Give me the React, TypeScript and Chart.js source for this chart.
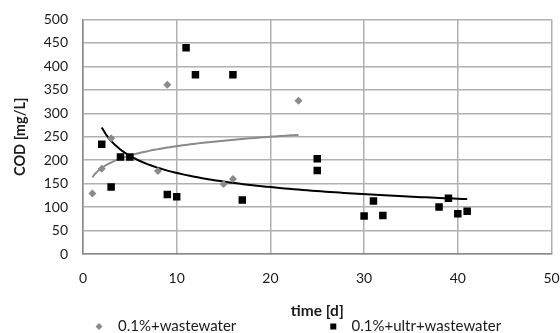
import React, { useEffect, useRef } from 'react';
import { Chart, registerables } from 'chart.js';

Chart.register(...registerables);

// ---- data ----
const seriesNames = ['0.1%+wastewater', '0.1%+ultr+wastewater'];
const daysWastewater = [1, 2, 3, 8, 9, 15, 16, 23];
const codWastewater = [129, 182, 247, 177, 361, 149, 160, 327];
const daysUltr = [2, 3, 4, 5, 9, 10, 11, 12, 16, 17, 25, 25, 30, 31, 32, 38, 39, 40, 41];
const codUltr = [234, 143, 207, 207, 127, 122, 440, 382, 382, 115, 203, 178, 81, 113, 82, 100, 119, 86, 91];
const xAxisTitle = 'time [d]';
const yAxisTitle = 'COD [mg/L]';
const xMin = 0, xMax = 50, xStep = 10;
const yMin = 0, yMax = 500, yStep = 50;

const FONT = 'Lato, "Open Sans", sans-serif';
const GRAY = '#8a8a8a';
const BLACK = '#000000';
const TEXT = '#1a1a1a';

// least-squares logarithmic trend: y = a + b ln x
function logFit(xs: number[], ys: number[]) {
  const n = xs.length;
  const lx = xs.map((x) => Math.log(x));
  const mx = lx.reduce((s, v) => s + v, 0) / n;
  const my = ys.reduce((s, v) => s + v, 0) / n;
  let sxy = 0, sxx = 0;
  for (let i = 0; i < n; i++) { sxy += (lx[i] - mx) * (ys[i] - my); sxx += (lx[i] - mx) ** 2; }
  const b = sxy / sxx;
  const a = my - b * mx;
  return (x: number) => a + b * Math.log(x);
}
// least-squares power trend: y = a x^b
function powerFit(xs: number[], ys: number[]) {
  const n = xs.length;
  const lx = xs.map((x) => Math.log(x));
  const ly = ys.map((y) => Math.log(y));
  const mx = lx.reduce((s, v) => s + v, 0) / n;
  const my = ly.reduce((s, v) => s + v, 0) / n;
  let sxy = 0, sxx = 0;
  for (let i = 0; i < n; i++) { sxy += (lx[i] - mx) * (ly[i] - my); sxx += (lx[i] - mx) ** 2; }
  const b = sxy / sxx;
  const a = Math.exp(my - b * mx);
  return (x: number) => a * Math.pow(x, b);
}
function sampleTrend(f: (x: number) => number, xs: number[]) {
  const lo = Math.min(...xs), hi = Math.max(...xs);
  const steps = 80;
  const pts: { x: number; y: number }[] = [];
  for (let i = 0; i <= steps; i++) {
    const x = lo + ((hi - lo) * i) / steps;
    pts.push({ x, y: f(x) });
  }
  return pts;
}

const overlayPlugin = {
  id: 'overlay',
  afterDraw(chart: any) {
    const ctx = chart.ctx as CanvasRenderingContext2D;
    const area = chart.chartArea;
    ctx.save();
    // x axis title
    ctx.fillStyle = TEXT;
    ctx.font = `bold 15.5px ${FONT}`;
    ctx.textAlign = 'center';
    ctx.textBaseline = 'middle';
    ctx.fillText(xAxisTitle, (area.left + area.right) / 2, 311);
    // legend
    ctx.font = `15px ${FONT}`;
    ctx.textAlign = 'left';
    const ly = 326.5;
    ctx.fillStyle = GRAY;
    ctx.beginPath();
    ctx.moveTo(99, ly - 3.5);
    ctx.lineTo(102.5, ly);
    ctx.lineTo(99, ly + 3.5);
    ctx.lineTo(95.5, ly);
    ctx.closePath();
    ctx.fill();
    ctx.fillStyle = TEXT;
    ctx.fillText(seriesNames[0], 118, ly);
    ctx.fillStyle = BLACK;
    ctx.fillRect(330.3, ly - 3, 6, 6);
    ctx.fillStyle = TEXT;
    ctx.fillText(seriesNames[1], 351.5, ly);
    ctx.restore();
  },
};

export default function App() {
  const ref = useRef<HTMLCanvasElement>(null);
  useEffect(() => {
    document.body.style.margin = '0';
    const trend1 = sampleTrend(logFit(daysWastewater, codWastewater), daysWastewater);
    const trend2 = sampleTrend(powerFit(daysUltr, codUltr), daysUltr);
    const chart = new Chart(ref.current!, {
      type: 'scatter',
      data: {
        datasets: [
          {
            label: seriesNames[0] + ' trend',
            data: trend1,
            showLine: true,
            borderColor: GRAY,
            borderWidth: 2,
            pointRadius: 0,
            fill: false,
            order: 3,
          },
          {
            label: seriesNames[1] + ' trend',
            data: trend2,
            showLine: true,
            borderColor: BLACK,
            borderWidth: 2,
            pointRadius: 0,
            fill: false,
            order: 4,
          },
          {
            label: seriesNames[0],
            data: daysWastewater.map((x, i) => ({ x, y: codWastewater[i] })),
            pointStyle: 'rectRot',
            pointRadius: 4,
            backgroundColor: GRAY,
            borderColor: GRAY,
            borderWidth: 0,
            order: 2,
          },
          {
            label: seriesNames[1],
            data: daysUltr.map((x, i) => ({ x, y: codUltr[i] })),
            pointStyle: 'rect',
            pointRadius: 5.3,
            backgroundColor: BLACK,
            borderColor: BLACK,
            borderWidth: 0,
            order: 1,
          },
        ],
      },
      options: {
        responsive: false,
        animation: false,
        layout: { padding: { left: 5, right: 8.5, top: 19.5, bottom: 0 } },
        plugins: { legend: { display: false }, tooltip: { enabled: false } },
        scales: {
          x: {
            type: 'linear',
            min: xMin,
            max: xMax,
            ticks: { stepSize: xStep, padding: 16, color: TEXT, font: { family: FONT, size: 14 } },
            grid: { color: '#b0b0b0', lineWidth: 1.5, drawTicks: false },
            border: { color: '#888888', width: 1.5 },
            afterFit: (s: any) => { s.height = 79; s.paddingLeft = 0; s.paddingRight = 0; },
          },
          y: {
            type: 'linear',
            min: yMin,
            max: yMax,
            ticks: { stepSize: yStep, padding: 15, color: TEXT, font: { family: FONT, size: 14 } },
            grid: { color: '#b0b0b0', lineWidth: 1.5, drawTicks: false },
            border: { color: '#888888', width: 1.5 },
            title: {
              display: true,
              text: yAxisTitle,
              color: TEXT,
              font: { family: FONT, size: 14.5, weight: 'bold' },
              padding: { top: 7, bottom: 0 },
            },
            afterFit: (s: any) => { s.width = 78; s.paddingTop = 0; s.paddingBottom = 0; },
          },
        },
      },
      plugins: [overlayPlugin],
    });
    return () => chart.destroy();
  }, []);
  return <canvas ref={ref} width={560} height={333} style={{ display: 'block' }} />;
}
